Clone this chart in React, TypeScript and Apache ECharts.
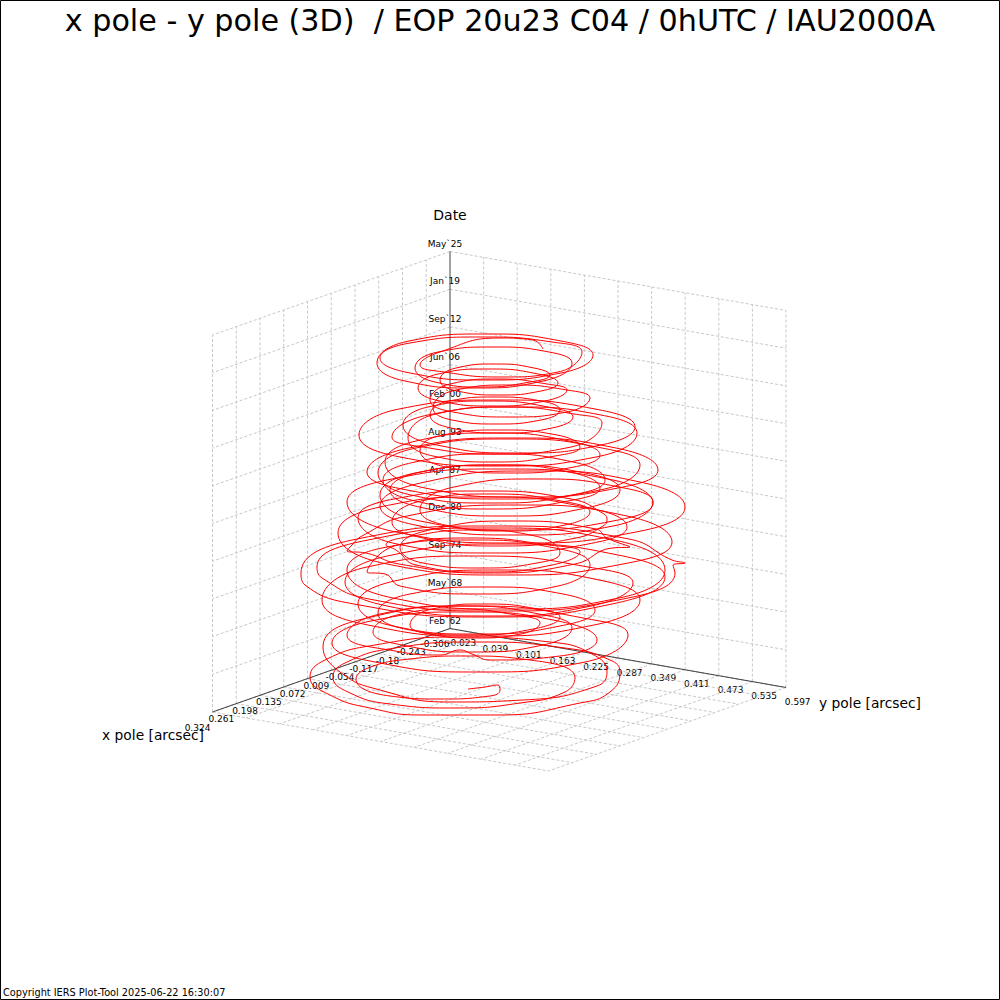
import React, { useEffect, useRef } from "react";
import * as echarts from "echarts";

const titleText = "x pole - y pole (3D)  / EOP 20u23 C04 / 0hUTC / IAU2000A";
const footerText = "Copyright IERS Plot-Tool 2025-06-22 16:30:07";
const xPoleTicks = ["-0.306", "-0.243", "-0.18", "-0.117", "-0.054", "0.009", "0.072", "0.135", "0.198", "0.261", "0.324"];
const yPoleTicks = ["-0.023", "0.039", "0.101", "0.163", "0.225", "0.287", "0.349", "0.411", "0.473", "0.535", "0.597"];
const dateTicks = ["Feb`62", "May`68", "Sep`74", "Dec`80", "Apr`87", "Aug`93", "Feb`00", "Jun`06", "Sep`12", "Jan`19", "May`25"];

// The path, on a 0-1000 plot scale, era by era.
const trace1962 = [
  [468,689],[485,687],[498,685],[500,690],[490,696],[440,699],[390,696],[356,679],
  [368,668],[410,659],[465,656],[530,660],[575,678],[565,692],[520,703],[455,708],[390,704],[348,692],[333,677],
  [345,663],[395,648],[475,642],[565,648],[610,660],[620,672],[610,692],[580,703],[497,715],[423,715],[370,708],[330,695],[310,677],
  [325,660],[375,645],[460,637],[550,642],[592,654],[607,672],[597,686],[523,700],[450,702],[380,690],[340,672],[323,647],
  [367,618],[475,606],[583,618],[628,635],[585,662],[480,672],[375,662],[332,643],
  [371,621],[465,612],[558,621],[597,640],[560,656],[490,660],[472,654],[460,650],[440,655],[395,651],[347,635],
];
const trace1968 = [
  [380,614],[460,606],[539,614],[572,628],[543,645],[472,652],[402,645],[373,632],
  [397,615],[456,609],[516,615],[540,623],[521,634],[475,638],[429,634],[410,625],
  [432,609],[485,604],[538,609],[560,617],[533,629],[469,635],[405,629],[378,613],
  [410,594],[486,587],[563,594],[595,610],[560,626],[476,634],[393,626],[358,604],
  [399,580],[499,570],[599,580],[640,600],[594,625],[481,636],[368,625],[322,600],
  [367,567],[478,556],[588,567],[633,583],[591,606],[489,616],[387,606],[345,582],
];
const trace1975 = [
  [392,555],[505,544],[618,555],[665,577],[612,604],[483,617],[354,604],[305,585],[301,573],
  [357,539],[493,526],[629,539],[672,560],[685,563],[673,565],[675,573],[623,599],[496,611],[369,599],[322,578],[317,567],
  [368,540],[491,528],[614,540],[665,570],[619,598],[506,609],[393,598],[347,570],
  [382,548],[468,540],[555,548],[590,565],[558,586],[478,594],[400,586],[385,574],[367,572],
  [398,545],[473,538],[549,545],[580,552],[552,565],[484,572],[416,565],[396,550],[386,545],
  [413,536],[474,530],[535,536],[560,553],[537,563],[480,568],[423,563],[400,548],
];
const trace1982 = [
  [434,529],[515,521],[596,529],[607,538],[630,547],[612,548],[575,564],[487,573],[399,564],[366,553],[347,551],[352,545],[362,536],
  [407,516],[517,505],[627,516],[672,542],[623,564],[505,575],[387,564],[338,533],
  [380,507],[482,497],[585,507],[627,527],[588,544],[492,553],[397,544],[358,518],
  [394,499],[482,491],[571,499],[604,514],[607,520],[603,526],[576,538],[500,546],[423,538],[392,522],
  [421,501],[491,494],[561,501],[590,512],[565,525],[505,531],[445,525],[420,510],
  [454,487],[536,479],[619,487],[653,502],[613,526],[516,535],[420,526],[380,506],
  [425,482],[532,471],[640,482],[685,507],[636,532],[516,543],[396,532],[347,502],
];
const trace1990 = [
  [392,479],[500,469],[608,479],[653,503],[613,521],[516,530],[420,521],[380,495],
  [415,473],[500,465],[585,473],[620,490],[586,508],[505,516],[424,508],[390,490],
  [421,472],[495,465],[569,472],[600,488],[568,501],[491,509],[415,501],[383,480],
  [415,462],[494,454],[573,462],[605,480],[572,495],[491,503],[411,495],[378,473],
  [416,448],[509,439],[602,448],[640,465],[600,490],[503,499],[407,490],[367,472],
  [409,448],[512,438],[616,448],[658,470],[618,488],[521,497],[425,488],[385,462],
];
const trace2000 = [
  [416,441],[492,433],[569,441],[600,455],[574,467],[510,473],[446,467],[420,450],
  [443,435],[500,430],[557,435],[580,447],[555,456],[494,462],[433,456],[408,438],
  [436,414],[505,407],[574,414],[602,423],[571,447],[497,454],[423,447],[392,437],
  [428,415],[514,407],[601,415],[637,433],[596,457],[498,466],[400,457],[359,435],
  [399,409],[497,400],[595,409],[635,427],[601,445],[519,453],[437,445],[403,425],
  [428,407],[488,401],[548,407],[573,417],[552,428],[501,433],[451,428],[430,415],
  [449,401],[495,397],[541,401],[560,410],[541,420],[496,424],[452,420],[433,408],
];
const trace2010 = [
  [456,390],[511,385],[567,390],[590,398],[567,412],[510,417],[453,412],[430,400],
  [450,384],[498,379],[547,384],[567,390],[545,401],[492,406],[440,401],[418,388],
  [438,374],[488,369],[538,374],[558,383],[541,391],[499,395],[457,391],[440,380],
  [456,368],[495,364],[534,368],[550,375],[530,382],[482,387],[435,382],[415,368],
  [438,352],[493,347],[549,352],[572,363],[543,381],[474,388],[405,381],[377,363],
  [409,341],[485,334],[561,341],[593,355],[561,373],[485,380],[410,373],[380,358],
  [410,343],[482,337],[552,342],[582,352],[558,372],[501,377],[444,372],[420,365],
  [440,352],[500,338],[533,340],[543,349],
];
const poleTrace = [...trace1962, ...trace1968, ...trace1975, ...trace1982, ...trace1990, ...trace2000, ...trace2010];

const O = [450, 628.5];
const A = [212.5, 712];
const B = [786, 687.5];
const T = [450, 251.5];
const N = 10;
const mix = (a: number[], b: number[], t: number) => [a[0] + (b[0] - a[0]) * t, a[1] + (b[1] - a[1]) * t];
const add = (a: number[], dx: number, dy: number) => [a[0] + dx, a[1] + dy];
const up = T[1] - O[1];
const F = [A[0] + B[0] - O[0], A[1] + B[1] - O[1]];

function gridLines() {
  const pts: any[] = [];
  const seg = (p: number[], q: number[]) => { pts.push(p, q, [NaN, NaN]); };
  for (let i = 0; i <= N; i++) {
    const t = i / N;
    const a = mix(O, A, t);
    const b = mix(O, B, t);
    if (i > 0) {
      seg(a, add(a, 0, up));
      seg(b, add(b, 0, up));
    }
    seg(add(O, 0, up * t), add(A, 0, up * t));
    seg(add(O, 0, up * t), add(B, 0, up * t));
    seg(a, add(F, a[0] - A[0], a[1] - A[1]));
    seg(b, add(F, b[0] - B[0], b[1] - B[1]));
  }
  return pts;
}

export default function App() {
  const ref = useRef<HTMLDivElement>(null);
  useEffect(() => {
    document.body.style.margin = "0";
    const chart = echarts.init(ref.current!, undefined, { renderer: "svg" });
    const font = "DejaVu Sans";
    const txt = (text: string, p: number[], size: number, align = "center") => ({
      type: "text", x: p[0], y: p[1], z: 1, silent: true,
      style: { text, fontFamily: font, fontSize: size, fill: "#000", align, verticalAlign: "middle" },
    });
    const graphics: any[] = [
      { type: "rect", z: 10, silent: true, shape: { x: 0.5, y: 0.5, width: 999, height: 999 }, style: { fill: "none", stroke: "#000", lineWidth: 1 } },
      txt(titleText, [500, 20], 30.2),
      txt("Date", [450, 215], 14),
      txt("x pole [arcsec]", [153, 735], 13.8),
      txt("y pole [arcsec]", [870, 703], 13.8),
      txt(footerText, [3, 992.5], 9.76, "left"),
    ];
    xPoleTicks.forEach((s, i) => graphics.push(txt(s, add(mix(O, A, i / N), -15, 15.5), 9)));
    yPoleTicks.forEach((s, i) => graphics.push(txt(s, add(mix(O, B, i / N), 11.7, 14.5), 9)));
    dateTicks.forEach((s, i) => graphics.push(txt(s, add(mix(O, T, i / N), -5, -8), 9)));
    chart.setOption({
      animation: false,
      backgroundColor: "#fff",
      grid: { left: 0, right: 0, top: 0, bottom: 0 },
      xAxis: { type: "value", min: 0, max: 1000, show: false },
      yAxis: { type: "value", min: 0, max: 1000, inverse: true, show: false },
      graphic: graphics,
      series: [
        { type: "line", data: gridLines(), symbol: "none", silent: true, lineStyle: { color: "#c8c8c8", width: 1, type: [3, 2] } },
        { type: "line", data: [A, O, B], symbol: "none", silent: true, lineStyle: { color: "#444", width: 1 } },
        { type: "line", data: [O, T], symbol: "none", silent: true, lineStyle: { color: "#444", width: 1 } },
        { type: "line", name: "pole", data: poleTrace, symbol: "none", smooth: 0.5, silent: true, lineStyle: { color: "#ff0000", width: 1 } },
      ],
    });
    return () => chart.dispose();
  }, []);
  return <div ref={ref} style={{ width: 1000, height: 1000 }} />;
}
